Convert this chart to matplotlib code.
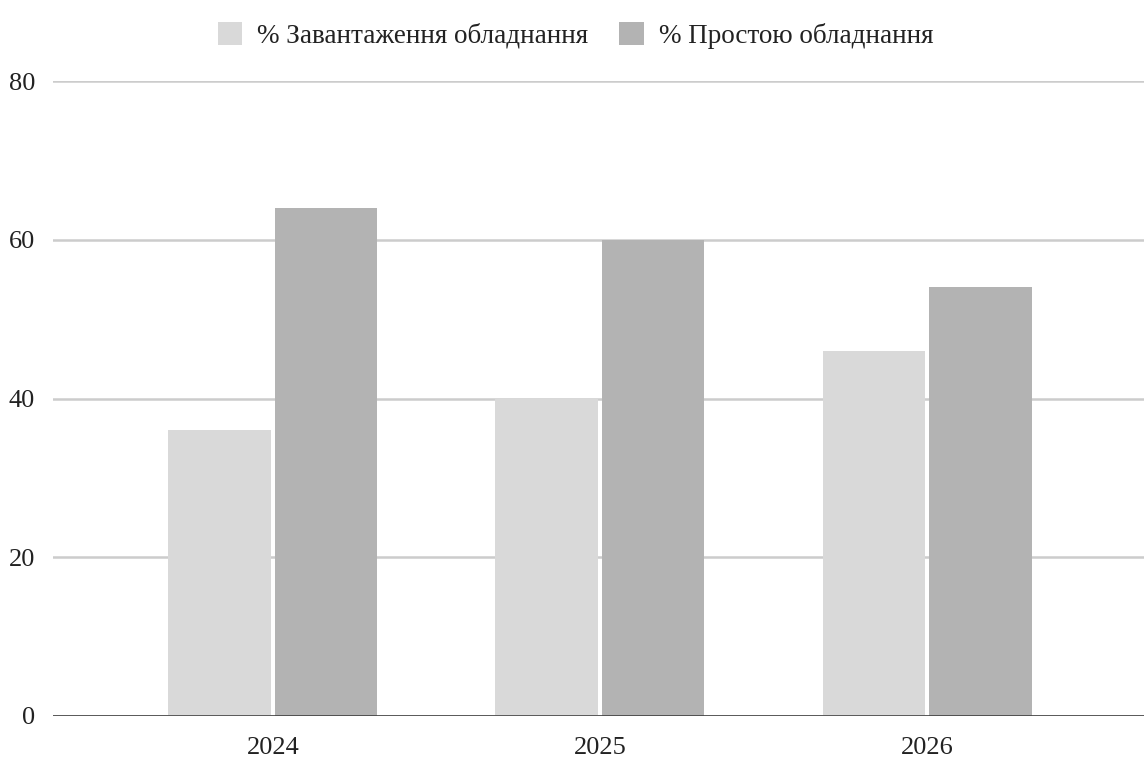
import matplotlib
matplotlib.use("Agg")
import matplotlib.pyplot as plt
import numpy as np

years = ["2024", "2025", "2026"]
load_pct = [36, 40, 46]
idle_pct = [64, 60, 54]
series_names = ["% Завантаження обладнання", "% Простою обладнання"]
y_ticks = [0, 20, 40, 60, 80]

plt.rcParams["font.family"] = ["Liberation Serif", "DejaVu Serif"]

fig = plt.figure(figsize=(11.44, 7.6), dpi=100)
ax = fig.add_axes([53 / 1144, 44 / 760, 1 - 53 / 1144, 635 / 760])

x = np.arange(len(years))
w = 0.313
off = 0.163
ax.bar(x - off, load_pct, width=w, color="#d9d9d9", label=series_names[0], zorder=3)
ax.bar(x + off, idle_pct, width=w, color="#b3b3b3", label=series_names[1], zorder=3)

ax.set_xlim(-0.672, 2.663)
ax.set_ylim(0, 80)
ax.set_yticks(y_ticks)
ax.set_yticklabels([str(v) for v in y_ticks])
ax.set_xticks(x)
ax.set_xticklabels(years)

ax.grid(axis="y", color="#cccccc", linewidth=1.8, zorder=0)
ax.axhline(0, color="#333333", linewidth=1.8, zorder=4)
for s in ax.spines.values():
    s.set_visible(False)
ax.tick_params(axis="both", length=0, labelsize=19, colors="#222222")
ax.tick_params(axis="y", pad=13)
ax.tick_params(axis="x", pad=15)

leg = fig.legend(loc="upper center", bbox_to_anchor=(0.503, 1.003), ncol=2,
                 frameon=False, fontsize=19.5, handlelength=0.9, handleheight=0.9,
                 handletextpad=0.55, columnspacing=1.15)
for t in leg.get_texts():
    t.set_color("#222222")

fig.savefig("out.png", dpi=100)
